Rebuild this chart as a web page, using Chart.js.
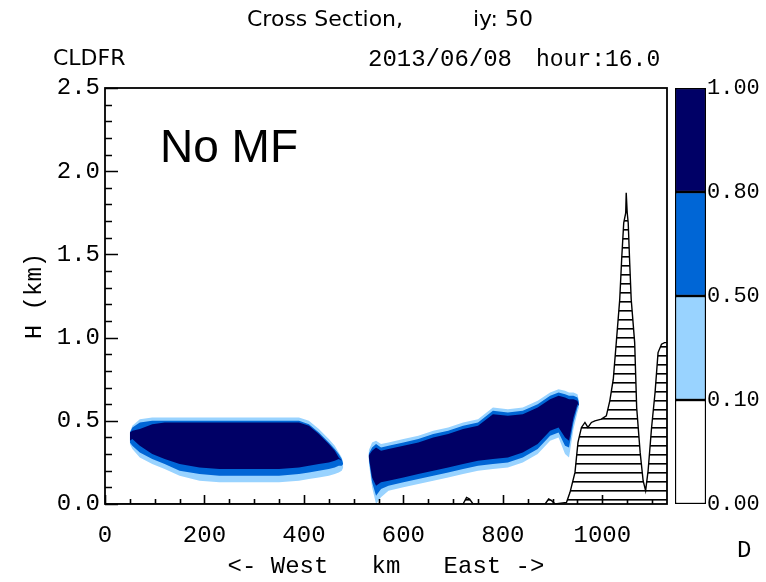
<!DOCTYPE html>
<html>
<head>
<meta charset="utf-8">
<script src="https://cdn.jsdelivr.net/npm/chart.js@4.4.1/dist/chart.umd.min.js"></script>
<style>
  html, body { margin: 0; padding: 0; background: #fff; }
  #wrap { position: relative; width: 766px; height: 582px; overflow: hidden; }
  #main { position: absolute; left: 0; top: 0; }
  #bar { position: absolute; left: 668px; top: 0; }
  .t { position: absolute; white-space: pre; color: #000; font-family: 'DejaVu Sans', sans-serif; font-size: 22px; line-height: 22px; }
  .m { font-family: 'Liberation Mono', 'DejaVu Sans Mono', monospace; font-size: 24px; line-height: 24px; }
  .big { font-family: 'Liberation Sans', Arial, sans-serif; font-size: 46px; line-height: 46px; }
</style>
</head>
<body>
<div id="wrap">
  <canvas id="main" width="766" height="582"></canvas>
  <canvas id="bar" width="98" height="582"></canvas>
  <div class="t" style="left:247px;top:8px">Cross Section,</div>
  <div class="t" style="left:473px;top:8px">iy: 50</div>
  <div class="t" style="left:53px;top:47px">CLDFR</div>
  <div class="t m" style="left:368px;top:48px">2013/06/08</div>
  <div class="t m" style="left:536px;top:48px;font-size:23px">hour:16.0</div>
  <div class="t big" style="left:160px;top:123px">No MF</div>
  <div class="t m" style="left:737px;top:539px">D</div>
</div>
<script>
(function () {
  // axes
  var X_MAX = 1130;
  var Y_MAX = 2.5;
  var xTicks = [0, 200, 400, 600, 800, 1000];
  var yTicks = [0, 0.5, 1.0, 1.5, 2.0, 2.5];

  // colours for the cloud fraction levels
  var C_LIGHT = '#99d3ff';
  var C_MID = '#0066d6';
  var C_NAVY = '#000066';

  // colour bar
  var cbLabels = ['0.00', '0.10', '0.50', '0.80', '1.00'];
  var cbColors = ['#ffffff', C_LIGHT, C_MID, C_NAVY];

  // west cloud (km, height km) : top / bottom of the 0.1, 0.5, 0.8 contours
  var westX     = [50, 55, 70, 95, 120, 150, 190, 230, 270, 310, 350, 390, 410, 430, 450, 462, 470, 476, 479];
  var westTop01 = [0.43, 0.47, 0.51, 0.52, 0.52, 0.52, 0.52, 0.52, 0.52, 0.52, 0.52, 0.52, 0.50, 0.45, 0.39, 0.35, 0.31, 0.28, 0.25];
  var westBot01 = [0.36, 0.33, 0.28, 0.24, 0.21, 0.17, 0.14, 0.13, 0.13, 0.13, 0.13, 0.14, 0.15, 0.16, 0.17, 0.18, 0.19, 0.20, 0.22];
  var westTop05 = [0.43, 0.46, 0.49, 0.50, 0.50, 0.50, 0.50, 0.50, 0.50, 0.50, 0.50, 0.50, 0.48, 0.43, 0.37, 0.33, 0.30, 0.27, 0.24];
  var westBot05 = [0.37, 0.35, 0.31, 0.27, 0.24, 0.20, 0.18, 0.17, 0.17, 0.17, 0.17, 0.18, 0.19, 0.20, 0.21, 0.22, 0.23, 0.23, 0.24];
  var westTop08 = [0.43, 0.44, 0.45, 0.48, 0.49, 0.49, 0.49, 0.49, 0.49, 0.49, 0.49, 0.49, 0.47, 0.42, 0.36, 0.32, 0.28, 0.26, 0.25];
  var westBot08 = [0.38, 0.39, 0.35, 0.30, 0.27, 0.24, 0.22, 0.21, 0.21, 0.21, 0.21, 0.22, 0.23, 0.24, 0.25, 0.26, 0.27, 0.26, 0.25];

  // east cloud
  var eastX     = [530, 537, 545, 555, 570, 600, 630, 660, 690, 720, 750, 780, 810, 840, 870, 895, 912, 925, 933, 942, 950, 953];
  var eastTop01 = [0.32, 0.37, 0.38, 0.36, 0.37, 0.39, 0.41, 0.44, 0.46, 0.49, 0.51, 0.58, 0.57, 0.58, 0.62, 0.67, 0.69, 0.68, 0.67, 0.67, 0.66, 0.62];
  var eastBot01 = [0.26, 0.10, 0.00, 0.04, 0.08, 0.10, 0.12, 0.14, 0.16, 0.18, 0.20, 0.21, 0.22, 0.25, 0.30, 0.38, 0.40, 0.30, 0.28, 0.45, 0.55, 0.58];
  var eastTop05 = [0.30, 0.34, 0.36, 0.34, 0.35, 0.37, 0.39, 0.42, 0.44, 0.47, 0.49, 0.56, 0.55, 0.56, 0.60, 0.65, 0.67, 0.66, 0.65, 0.65, 0.64, 0.61];
  var eastBot05 = [0.28, 0.13, 0.05, 0.09, 0.11, 0.13, 0.15, 0.17, 0.19, 0.21, 0.23, 0.24, 0.25, 0.28, 0.33, 0.41, 0.43, 0.35, 0.34, 0.49, 0.58, 0.60];
  var eastTop08 = [0.29, 0.32, 0.34, 0.32, 0.33, 0.35, 0.37, 0.40, 0.42, 0.45, 0.47, 0.54, 0.53, 0.54, 0.58, 0.63, 0.65, 0.64, 0.63, 0.63, 0.62, 0.59];
  var eastBot08 = [0.29, 0.16, 0.11, 0.13, 0.14, 0.16, 0.18, 0.20, 0.22, 0.24, 0.26, 0.27, 0.28, 0.31, 0.36, 0.44, 0.46, 0.40, 0.38, 0.52, 0.60, 0.59];

  // terrain profile
  var terrainX = [0, 720, 727, 733, 740, 885, 892, 898, 905, 928, 935, 945, 951, 958, 965, 971, 978, 985, 998, 1008,
                  1015, 1022, 1028, 1035, 1039, 1043, 1047, 1048, 1049, 1050, 1052, 1055, 1058, 1065, 1069, 1076, 1082, 1087, 1092, 1099,
                  1106, 1112, 1119, 1125, 1130];
  var terrainH = [0, 0, 0.04, 0.03, 0, 0, 0.03, 0.02, 0, 0.01, 0.07, 0.19, 0.37, 0.46, 0.49, 0.46, 0.49, 0.50, 0.51, 0.53,
                  0.62, 0.75, 0.97, 1.23, 1.48, 1.69, 1.75, 1.87, 1.87, 1.75, 1.69, 1.45, 1.23, 0.97, 0.58, 0.31, 0.14, 0.08, 0.20, 0.46,
                  0.67, 0.91, 0.96, 0.97, 0.97];

  var MONO = "'Liberation Mono', 'DejaVu Sans Mono', monospace";
  var FS = 24;

  function pts(xs, ys) {
    return xs.map(function (x, i) { return { x: x, y: ys[i] }; });
  }

  function band(xs, top, bot, color, order) {
    return [
      { data: pts(xs, top), fill: '+1', backgroundColor: color, borderColor: 'transparent', borderWidth: 0, pointRadius: 0, order: order },
      { data: pts(xs, bot), fill: false, borderColor: 'transparent', borderWidth: 0, pointRadius: 0, order: order }
    ];
  }

  function hatchPattern() {
    var c = document.createElement('canvas');
    c.width = 8; c.height = 9;
    var g = c.getContext('2d');
    g.fillStyle = '#fff';
    g.fillRect(0, 0, 8, 9);
    g.fillStyle = '#000';
    g.fillRect(0, 4, 8, 1.6);
    return g.createPattern(c, 'repeat');
  }

  var datasets = []
    .concat(band(westX, westTop01, westBot01, C_LIGHT, 3))
    .concat(band(westX, westTop05, westBot05, C_MID, 2))
    .concat(band(westX, westTop08, westBot08, C_NAVY, 1))
    .concat(band(eastX, eastTop01, eastBot01, C_LIGHT, 3))
    .concat(band(eastX, eastTop05, eastBot05, C_MID, 2))
    .concat(band(eastX, eastTop08, eastBot08, C_NAVY, 1));
  datasets.push({
    data: pts(terrainX, terrainH), fill: 'origin', backgroundColor: hatchPattern(),
    borderColor: '#000', borderWidth: 1.4, pointRadius: 0, order: 0
  });

  // box + inward ticks, IDL style
  var frame = {
    id: 'frame',
    afterDatasetsDraw: function (chart) {
      var ctx = chart.ctx, a = chart.chartArea;
      var xs = chart.scales.x, ys = chart.scales.y;
      var v, p;
      ctx.save();
      ctx.strokeStyle = '#000';
      ctx.lineWidth = 1.8;
      ctx.strokeRect(a.left, a.top, a.right - a.left, a.bottom - a.top);
      ctx.lineWidth = 1.6;
      ctx.beginPath();
      for (v = 0; v <= X_MAX; v += 50) {
        p = Math.round(xs.getPixelForValue(v)) + 0.5;
        ctx.moveTo(p, a.bottom);
        ctx.lineTo(p, a.bottom - (v % 200 === 0 ? 9 : 5));
      }
      for (v = 0; v <= 25; v += 1) {
        p = Math.round(ys.getPixelForValue(v / 10)) + 0.5;
        ctx.moveTo(a.left, p);
        ctx.lineTo(a.left + (v % 5 === 0 ? 13 : 7), p);
      }
      ctx.stroke();
      ctx.restore();
    }
  };

  new Chart(document.getElementById('main').getContext('2d'), {
    type: 'line',
    data: { datasets: datasets },
    plugins: [frame],
    options: {
      responsive: false, animation: false,
      layout: { padding: { top: 88, right: 99, left: 0, bottom: 0 } },
      plugins: { legend: { display: false }, tooltip: { enabled: false } },
      elements: { line: { tension: 0 } },
      scales: {
        x: {
          type: 'linear', min: 0, max: X_MAX,
          afterBuildTicks: function (s) { s.ticks = xTicks.map(function (v) { return { value: v }; }); },
          afterFit: function (s) { s.height = 78; },
          grid: { display: false, drawTicks: false },
          border: { display: false },
          ticks: { color: '#000', padding: 17, maxRotation: 0, font: { family: MONO, size: FS },
                   callback: function (v) { return String(v); } },
          title: { display: true, text: '<- West   km   East ->', color: '#000',
                   font: { family: MONO, size: FS }, padding: { top: 0, bottom: 1 } }
        },
        y: {
          type: 'linear', min: 0, max: Y_MAX,
          afterBuildTicks: function (s) { s.ticks = yTicks.map(function (v) { return { value: v }; }); },
          afterFit: function (s) { s.width = 105; },
          grid: { display: false, drawTicks: false },
          border: { display: false },
          ticks: { color: '#000', padding: 5, font: { family: MONO, size: FS },
                   callback: function (v) { return Number(v).toFixed(1); } },
          title: { display: true, text: 'H (km)', color: '#000',
                   font: { family: MONO, size: FS }, padding: { top: 20, bottom: 0 } }
        }
      }
    }
  });

  // colour bar
  new Chart(document.getElementById('bar').getContext('2d'), {
    type: 'bar',
    data: {
      labels: [''],
      datasets: cbColors.map(function (c) {
        return { data: [1], backgroundColor: c, borderColor: '#000', borderWidth: 1.5, borderSkipped: false,
                 barPercentage: 1, categoryPercentage: 1 };
      })
    },
    options: {
      responsive: false, animation: false,
      layout: { padding: { top: 88, bottom: 78, left: 7, right: 0 } },
      plugins: { legend: { display: false }, tooltip: { enabled: false } },
      scales: {
        x: { stacked: true, display: false },
        y: {
          stacked: true, position: 'right', min: 0, max: 4,
          afterBuildTicks: function (s) { s.ticks = cbLabels.map(function (l, i) { return { value: i }; }); },
          afterFit: function (s) { s.width = 60; },
          grid: { display: false, drawTicks: false },
          border: { display: false },
          ticks: { color: '#000', padding: 1, font: { family: MONO, size: 22 },
                   callback: function (v) { return cbLabels[v]; } }
        }
      }
    }
  });
})();
</script>
</body>
</html>
